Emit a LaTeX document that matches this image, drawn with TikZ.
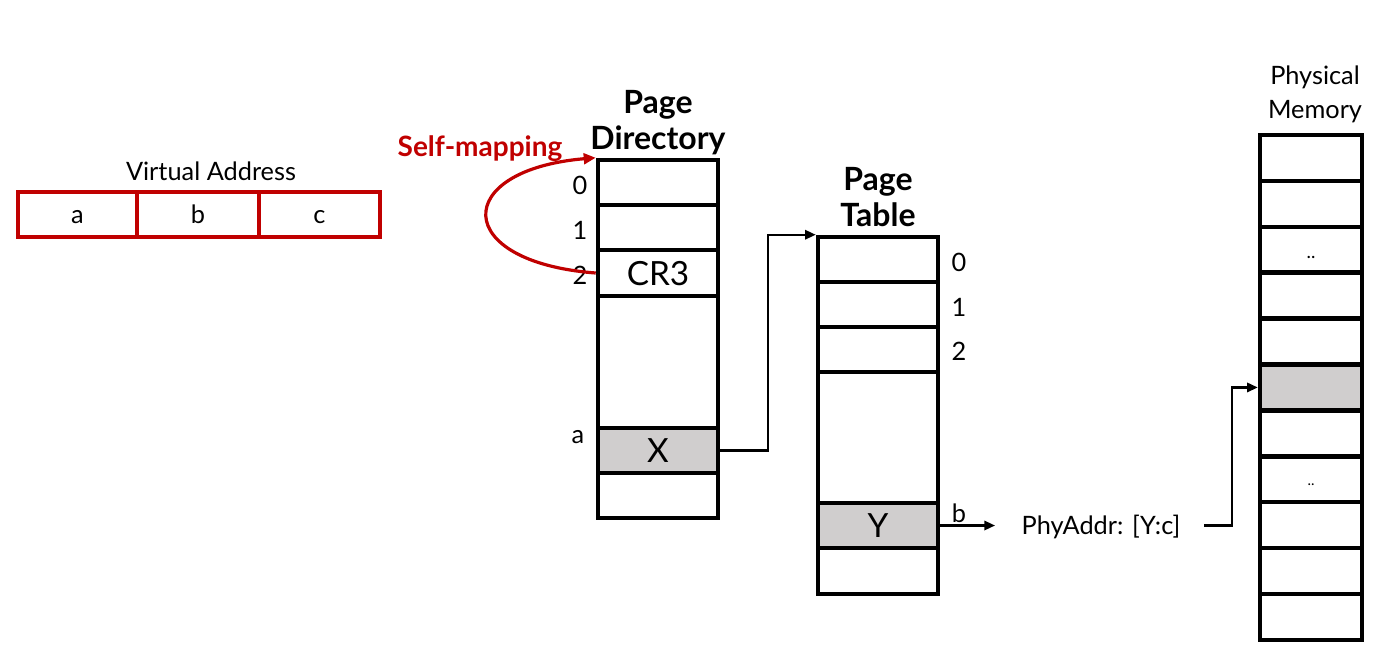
\documentclass[tikz,border=0pt]{standalone}
\usepackage{fontspec}
\setmainfont{Lato}
\usetikzlibrary{arrows.meta,calc}
\definecolor{vred}{HTML}{C00000}
\definecolor{cellgray}{HTML}{D0CECE}
\begin{document}
\begin{tikzpicture}[x=0.75pt,y=-0.75pt,
  cell/.style={draw=black,line width=3.4pt,fill=white,inner sep=0pt,minimum width=90pt,minimum height=33.75pt,text height=18pt,text depth=0pt,font=\fontsize{25}{28}\selectfont},
  gcell/.style={cell,fill=cellgray},
  pmcell/.style={cell,minimum width=76.5pt,minimum height=34.43pt,font=\fontsize{14}{16}\selectfont},
  vacell/.style={draw=vred,line width=2.4pt,inner sep=0pt,minimum height=33.75pt,text height=13.7pt,text depth=0pt,font=\fontsize{19}{22}\selectfont},
  idx/.style={inner sep=0pt,font=\fontsize{19}{22}\selectfont},
  ttl/.style={inner sep=0pt,align=center,font=\bfseries\fontsize{24}{27}\selectfont},
  lbl/.style={inner sep=0pt,align=center,font=\fontsize{19}{25.5}\selectfont},
  arr/.style={line width=1.6pt,-{Triangle[length=8pt,width=7pt]}},
  ln/.style={line width=1.6pt}
]
\useasboundingbox (0,0) rectangle (1374,647);
% Virtual address
\node[lbl] (valbl) at (211,171) {Virtual Address};
\node[vacell,minimum width=89.25pt] (vaa) at (77.5,214.5) {a};
\node[vacell,minimum width=91.5pt] (vab) at (198,214.5) {b};
\node[vacell,minimum width=90.75pt] (vac) at (319.5,214.5) {c};
% Page directory
\node[ttl] (pdt) at (658,122.5) {Page\\Directory};
\node[cell] (pd0) at (658,182.5) {};
\node[cell] (pd1) at (658,227.5) {};
\node[cell,minimum height=34.5pt] (pd2) at (658,273) {CR3};
\node[cell,minimum height=99pt] (pdm) at (658,362) {};
\node[gcell] (pda) at (658,450.5) {X};
\node[cell] (pdl) at (658,495.5) {};
\node[idx] (i0) at (580,185) {0};
\node[idx] (i1) at (580,230) {1};
\node[idx] (i2) at (580,275) {2};
\node[idx] (ia) at (578,437) {a};
% Self-mapping
\node[inner sep=0pt,text=vred,font=\bfseries\fontsize{21}{24}\selectfont] (sm) at (480,148.5) {Self-mapping};
\draw[vred,line width=2.4pt,-{Triangle[length=9pt,width=8pt]}] (pd2.west) .. controls (451,262) and (451,170) .. (pd0.north west);
% Page table
\node[ttl] (ptt) at (878,197) {Page\\Table};
\node[cell] (pt0) at (878,259.5) {};
\node[cell] (pt1) at (878,304.5) {};
\node[cell] (pt2) at (878,349.5) {};
\node[cell,minimum height=98.25pt] (ptm) at (878,437.5) {};
\node[gcell] (ptb) at (878,525.5) {Y};
\node[cell,minimum height=34.5pt] (ptl) at (878,571) {};
\node[idx] (j0) at (959,262) {0};
\node[idx] (j1) at (959,307) {1};
\node[idx] (j2) at (959,351) {2};
\node[idx] (jb) at (959,513) {b};
% PD -> PT
\coordinate (k1) at (768,448);
\draw[arr] (pda.east) -- (pda.east -| k1) |- (pt0.north west);
% PT -> PhyAddr
\coordinate (bend) at (995,525.5);
\draw[arr] (ptb.east) -- (bend);
\node[lbl] (phy) at (1101,527) {PhyAddr: [Y:c]};
% Physical memory
\node[lbl] (pmt) at (1315,94) {Physical\\Memory};
\foreach \i in {0,...,10}{
  \pgfmathsetmacro{\cy}{135+45.9*(\i+0.5)}
  \ifnum\i=5
    \node[pmcell,fill=cellgray] (pm\i) at (1311,\cy) {};
  \else
    \node[pmcell] (pm\i) at (1311,\cy) {};
  \fi
}
\node[inner sep=0pt,font=\fontsize{14}{16}\selectfont] (dd1) at (pm2.center) [yshift=-6pt] {..};
\node[inner sep=0pt,font=\fontsize{11}{16}\selectfont] (dd2) at (pm7.center) [yshift=-4pt] {..};
\coordinate (phyout) at (1204,525.5);
\coordinate (k2) at (1232,525.5);
\draw[arr] (phyout) -- (k2) |- (pm5.west);
\end{tikzpicture}
\end{document}
